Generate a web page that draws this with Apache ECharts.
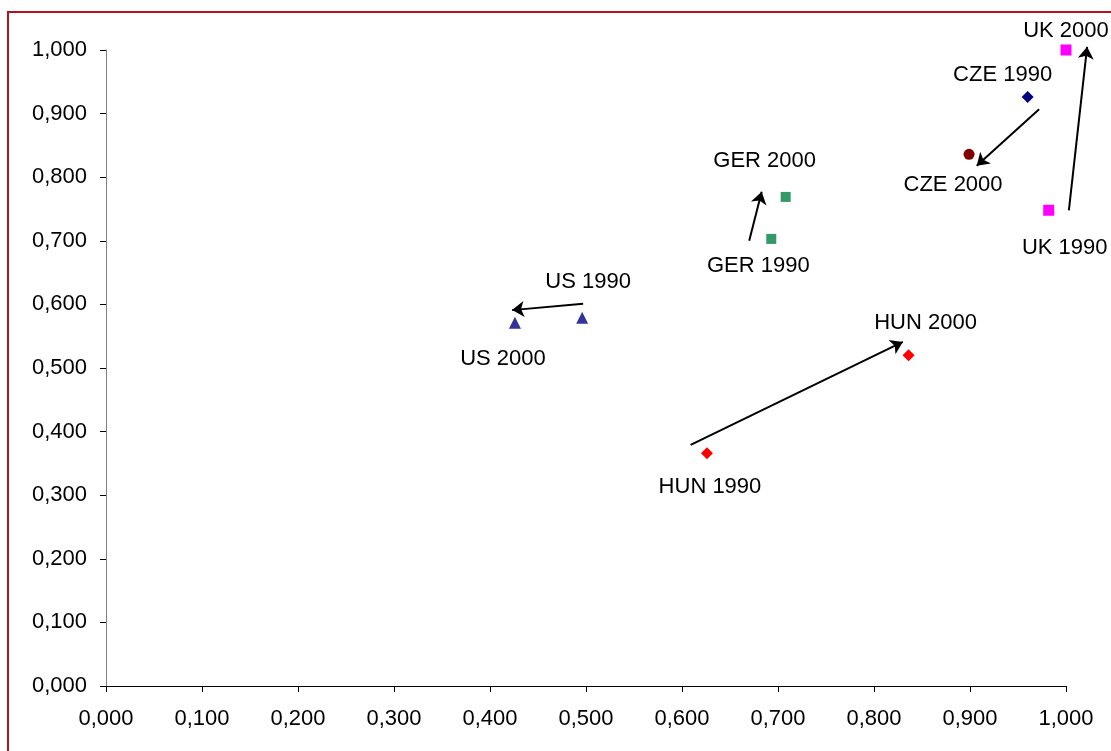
<!DOCTYPE html>
<html><head><meta charset="utf-8">
<script src="https://cdn.jsdelivr.net/npm/echarts@6/dist/echarts.min.js"></script>
<style>
html,body{margin:0;padding:0;background:#fff;overflow:hidden;}
#c{position:absolute;left:0;top:0;width:1111px;height:751px;}
#frame{position:absolute;left:7px;top:11px;width:1200px;height:800px;border:2px solid #b5121b;pointer-events:none;}
</style></head>
<body>
<div id="c"></div>
<div id="frame"></div>
<script>
// point data
const pointNames = ['US 1990','US 2000','GER 1990','GER 2000','HUN 1990','HUN 2000','CZE 1990','CZE 2000','UK 1990','UK 2000'];
const pointX = [0.496,0.426,0.693,0.708,0.626,0.836,0.960,0.899,0.982,1.000];
const pointY = [0.579,0.571,0.703,0.769,0.366,0.520,0.926,0.836,0.748,1.000];
// arrow annotations (start x, start y, end x, end y)
const arrowStartX = [0.497,0.670,0.609,0.972,1.003];
const arrowStartY = [0.601,0.700,0.379,0.907,0.748];
const arrowEndX   = [0.423,0.683,0.830,0.907,1.022];
const arrowEndY   = [0.591,0.777,0.541,0.818,1.005];
const axisTicks = [0,0.1,0.2,0.3,0.4,0.5,0.6,0.7,0.8,0.9,1.0];

// styles
const symbols = ['triangle','triangle','rect','rect','diamond','diamond','diamond','circle','rect','rect'];
const sizes = [12,12,10,10,12,12,12,11,11,11];
const colors = ['#333399','#333399','#339966','#339966','#ff0000','#ff0000','#000080','#800000','#ff00ff','#ff00ff'];
const labelOffsets = [[6,-36],[-12,36],[-13,27],[-21,-36],[3,34],[17,-32],[-25,-22],[-16,31],[16,38],[0,-19]];

const fmt = v => v.toFixed(3).replace('.', ',');
const font = 'Liberation Sans, Arial, sans-serif';

const series = pointNames.map((n,i)=>({
  type:'scatter', name:n, clip:false,
  symbol:symbols[i], symbolSize:sizes[i],
  itemStyle:{color:colors[i], opacity:1},
  label:{show:true, formatter:n, position:'inside', offset:labelOffsets[i], color:'#000', fontSize:22, fontFamily:font, opacity:1},
  emphasis:{disabled:true},
  data:[[pointX[i], pointY[i]]]
}));
series.push({
  type:'lines', name:'arrows', coordinateSystem:'cartesian2d', clip:false,
  polyline:false, silent:true,
  symbol:['none','arrow'], symbolSize:12,
  lineStyle:{color:'#000', width:2, opacity:1, curveness:0},
  data: arrowStartX.map((sx,i)=>({coords:[[sx, arrowStartY[i]],[arrowEndX[i], arrowEndY[i]]]}))
});

const chart = echarts.init(document.getElementById('c'), null, {renderer:'canvas'});
chart.setOption({
  animation:false,
  backgroundColor:'#fff',
  grid:{left:106, right:45, top:50, bottom:65, containLabel:false},
  xAxis:{type:'value', min:axisTicks[0], max:axisTicks[axisTicks.length-1], interval:0.1,
    axisLine:{show:true, onZero:false, lineStyle:{color:'#000', width:1}},
    axisTick:{show:true, length:6, inside:false, lineStyle:{color:'#000'}},
    splitLine:{show:false},
    axisLabel:{formatter:fmt, fontSize:22, color:'#000', fontFamily:font, margin:22}},
  yAxis:{type:'value', min:axisTicks[0], max:axisTicks[axisTicks.length-1], interval:0.1,
    axisLine:{show:true, onZero:false, lineStyle:{color:'#808080', width:1}},
    axisTick:{show:true, length:6, inside:false, lineStyle:{color:'#000'}},
    splitLine:{show:false},
    axisLabel:{formatter:fmt, fontSize:22, color:'#000', fontFamily:font, margin:19}},
  series:series
});
</script>
</body></html>
